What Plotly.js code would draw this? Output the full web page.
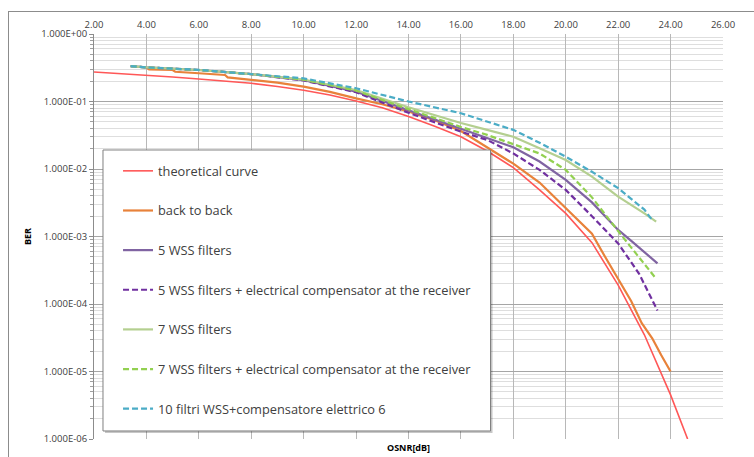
<!DOCTYPE html>
<html><head><meta charset="utf-8">
<script src="https://cdn.plot.ly/plotly-3.0.1.min.js"></script>
<style>
html,body{margin:0;padding:0;background:#fff;overflow:hidden;}
#frame{position:absolute;left:8px;top:11px;width:900px;height:600px;border:1px solid #8c8c8c;box-sizing:border-box;}
#chart{position:absolute;left:0;top:0;width:754px;height:457px;}
</style></head><body>
<div id="frame"></div>
<div id="chart"></div>
<script>
// ---- data ----
const seriesNames = [
  "theoretical curve",
  "back to back",
  "5 WSS filters",
  "5 WSS filters + electrical compensator at the receiver",
  "7 WSS filters",
  "7 WSS filters + electrical compensator at the receiver",
  "10 filtri WSS+compensatore elettrico 6"
];
const theoX = [2, 3, 4, 5, 6, 7, 8, 9, 10, 11, 12, 13, 14, 15, 16, 17, 18, 19, 20, 21, 22, 23, 24, 24.65];
const theoY = [0.274, 0.261, 0.247, 0.231, 0.215, 0.2, 0.186, 0.167, 0.147, 0.125, 0.102, 0.081, 0.060, 0.043, 0.030, 0.0185, 0.0105, 0.0049, 0.0022, 8.1e-4, 1.9e-4, 3.5e-5, 4.5e-6, 1.0e-6];

const b2bX = [4, 4.1, 5, 5.1, 6, 7, 7.1, 8, 9, 10, 11, 12, 13, 14, 15, 16, 17, 18, 19, 20, 21, 21.5, 22, 22.5, 22.9, 23.3, 23.64, 24];
const b2bY = [0.316, 0.3, 0.293, 0.276, 0.262, 0.247, 0.228, 0.209, 0.19, 0.166, 0.139, 0.111, 0.091, 0.071, 0.053, 0.0365, 0.021, 0.012, 0.0063, 0.0026, 0.0011, 5.0e-4, 2.4e-4, 1.1e-4, 5.2e-5, 3.1e-5, 1.75e-5, 1.0e-5];

const wss5X = [3.4, 4, 6, 8, 10, 12, 14, 16, 17, 18, 19, 20, 21, 22, 22.5, 23, 23.5];
const wss5Y = [0.335, 0.32, 0.293, 0.255, 0.207, 0.14, 0.074, 0.039, 0.029, 0.021, 0.0129, 0.0069, 0.0032, 0.00125, 8.6e-4, 5.8e-4, 4.0e-4];

const wss5cX = [3.4, 4, 6, 8, 10, 12, 14, 16, 17, 18, 19, 20, 21, 22, 22.8, 23.5];
const wss5cY = [0.335, 0.32, 0.293, 0.255, 0.205, 0.137, 0.068, 0.0357, 0.027, 0.017, 0.0097, 0.0049, 0.002, 7.9e-4, 2.8e-4, 8e-5];

const wss7X = [3.4, 4, 6, 8, 10, 12, 14, 16, 17, 18, 19, 20, 21, 22, 23, 23.45];
const wss7Y = [0.335, 0.32, 0.293, 0.255, 0.212, 0.148, 0.082, 0.048, 0.038, 0.030, 0.0203, 0.0136, 0.0077, 0.0039, 0.0022, 0.00166];

const wss7cX = [3.4, 4, 6, 8, 10, 12, 14, 16, 17, 18, 19, 20, 21, 22, 22.8, 23.4];
const wss7cY = [0.335, 0.32, 0.293, 0.255, 0.21, 0.145, 0.077, 0.042, 0.032, 0.0235, 0.017, 0.0097, 0.0038, 0.0012, 5e-4, 2.5e-4];

const wss10X = [3.4, 4, 6, 8, 10, 12, 14, 16, 17, 18, 19, 20, 21, 22, 23, 23.3];
const wss10Y = [0.335, 0.32, 0.295, 0.258, 0.22, 0.157, 0.1, 0.067, 0.05, 0.038, 0.0245, 0.0152, 0.0091, 0.0052, 0.0025, 0.00175];

const yTickVals = [1, 0.1, 0.01, 0.001, 0.0001, 0.00001, 0.000001];
const yTickText = ["1.000E+00", "1.000E-01", "1.000E-02", "1.000E-03", "1.000E-04", "1.000E-05", "1.000E-06"];

// ---- styles ----
const styles = [
  {color: "#ff5757", width: 1.6, dash: "solid"},
  {color: "#e8823a", width: 2.2, dash: "solid"},
  {color: "#8064a2", width: 2.2, dash: "solid"},
  {color: "#7030a0", width: 2.2, dash: "6px,3px"},
  {color: "#b4cf90", width: 2.2, dash: "solid"},
  {color: "#92d050", width: 2.2, dash: "6px,3px"},
  {color: "#4bacc6", width: 2.2, dash: "6px,3px"}
];
const xs = [theoX, b2bX, wss5X, wss5cX, wss7X, wss7cX, wss10X];
const ys = [theoY, b2bY, wss5Y, wss5cY, wss7Y, wss7cY, wss10Y];

const traces = seriesNames.map((n, i) => ({
  type: "scatter", mode: "lines", name: n, x: xs[i], y: ys[i],
  line: {color: styles[i].color, width: styles[i].width, dash: styles[i].dash},
  legendgroup: "g" + i
}));

const font = "'Open Sans', 'Liberation Sans', sans-serif";
const layout = {
  width: 754, height: 457,
  margin: {l: 94, r: 31, t: 34, b: 18},
  paper_bgcolor: "rgba(0,0,0,0)", plot_bgcolor: "rgba(0,0,0,0)",
  showlegend: true,
  xaxis: {
    range: [2, 26], side: "top", dtick: 2, tick0: 2, tickformat: ".2f",
    showgrid: true, gridcolor: "#b8b8b8", gridwidth: 1,
    zeroline: false, showline: false, ticks: "",
    ticklabelstandoff: 3,
    tickfont: {family: font, size: 9.5, color: "#404040"}
  },
  yaxis: {
    type: "log", range: [-6, 0],
    tickmode: "array", tickvals: yTickVals, ticktext: yTickText,
    showgrid: true, gridcolor: "#a6a6a6", gridwidth: 1,
    showline: true, linecolor: "#8c8c8c", linewidth: 1,
    ticks: "outside", ticklen: 4, tickcolor: "#8c8c8c",
    zeroline: false,
    minor: {tickmode: "linear", dtick: "D1", showgrid: true, gridcolor: "#dedede", gridwidth: 1, ticks: "outside", ticklen: 3, tickcolor: "#a0a0a0"},
    tickfont: {family: font, size: 9.5, color: "#404040"},
    title: {text: "BER", standoff: 8, font: {family: font, size: 9, weight: 700, color: "#000"}}
  },
  legend: {
    x: 0.0382, xanchor: "left", y: 0.6987, yanchor: "top",
    bgcolor: "rgba(0,0,0,0)", borderwidth: 0,
    traceorder: "grouped", tracegroupgap: 20,
    font: {family: font, size: 12.8, color: "#404040"}
  },
  shapes: [
    {type: "rect", xref: "paper", yref: "paper", x0: 0.0175, x1: 0.6336, y0: 0.0148, y1: 0.7086,
     fillcolor: "rgba(0,0,0,0.22)", line: {width: 0}, layer: "above"},
    {type: "rect", xref: "paper", yref: "paper", x0: 0.0143, x1: 0.6304, y0: 0.0198, y1: 0.7136,
     fillcolor: "#ffffff", line: {color: "#7f7f7f", width: 1}, layer: "above"}
  ],
  annotations: [
    {text: "<b>OSNR[dB]</b>", xref: "paper", yref: "paper", x: 0.5, y: -0.022, xanchor: "center", yanchor: "middle",
     showarrow: false, font: {family: font, size: 9, color: "#000"}}
  ]
};
Plotly.newPlot("chart", traces, layout, {displayModeBar: false, staticPlot: true});
</script>
</body></html>
